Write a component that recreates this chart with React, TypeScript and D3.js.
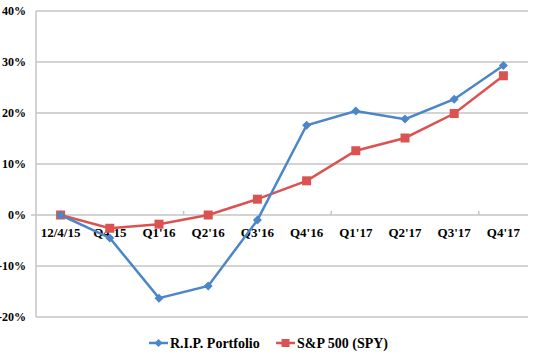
import React from "react";
import * as d3 from "d3";

const categories = ["12/4/15", "Q4'15", "Q1'16", "Q2'16", "Q3'16", "Q4'16", "Q1'17", "Q2'17", "Q3'17", "Q4'17"];
const ripValues = [0, -4.5, -16.3, -13.9, -1.0, 17.6, 20.4, 18.8, 22.7, 29.3];
const spyValues = [0, -2.6, -1.8, 0, 3.1, 6.7, 12.6, 15.1, 19.9, 27.3];
const yTicks = [-20, -10, 0, 10, 20, 30, 40];
const seriesNames = ["R.I.P. Portfolio", "S&P 500 (SPY)"];

const W = 533, H = 359;
const left = 36, right = 528, top = 11, bottom = 317;
const BLUE = "#4a86c8";
const RED = "#db5350";
const GRID = "#c4c4c4";
const FONT = "'Liberation Serif', 'Times New Roman', serif";

export default function App() {
  const x = d3.scaleBand<string>().domain(categories).range([left, right]);
  const y = d3.scaleLinear().domain([-20, 40]).range([bottom, top]);
  const cx = (c: string) => (x(c) as number) + x.bandwidth() / 2;
  const line = d3.line<number>().x((_, i) => cx(categories[i])).y((d) => y(d));
  const y0 = y(0);
  const tickIdx = [3, 6, 9];

  return (
    <svg width={W} height={H} style={{ position: "absolute", left: 0, top: 0, background: "#fff" }}>
      {yTicks.map((t) => (
        <g key={t}>
          {t !== 0 && <line x1={left} x2={right} y1={y(t)} y2={y(t)} stroke={GRID} strokeWidth={1.5} />}
          <text x={26} y={y(t) + 4} textAnchor="end" fontFamily={FONT} fontWeight="bold" fontSize={12} fill="#000">
            {t}%
          </text>
        </g>
      ))}
      <line x1={left} x2={left} y1={top} y2={bottom} stroke={GRID} strokeWidth={1.5} />
      <line x1={left - 5} x2={right} y1={y0} y2={y0} stroke={GRID} strokeWidth={1.5} />
      {tickIdx.map((i) => {
        const xx = (x(categories[0]) as number) + i * x.step();
        return <line key={i} x1={xx} x2={xx} y1={y0 - 4} y2={y0} stroke={GRID} strokeWidth={1.5} />;
      })}
      {categories.map((c) => (
        <text key={c} x={cx(c)} y={y0 + 22} textAnchor="middle" fontFamily={FONT} fontWeight="bold" fontSize={13} fill="#000">
          {c}
        </text>
      ))}
      <path d={line(spyValues) || ""} fill="none" stroke={RED} strokeWidth={2.5} />
      <path d={line(ripValues) || ""} fill="none" stroke={BLUE} strokeWidth={2.5} />
      {spyValues.map((v, i) => (
        <rect key={"s" + i} x={cx(categories[i]) - 4.5} y={y(v) - 4.5} width={9} height={9} fill={RED} />
      ))}
      {ripValues.map((v, i) => (
        <path
          key={"r" + i}
          transform={`translate(${cx(categories[i])},${y(v)})`}
          d="M0,-4.5L4.5,0L0,4.5L-4.5,0Z"
          fill={BLUE}
        />
      ))}
      <g>
        <line x1={149} x2={168} y1={343} y2={343} stroke={BLUE} strokeWidth={2.5} />
        <path transform="translate(158.5,343)" d="M0,-4L4,0L0,4L-4,0Z" fill={BLUE} />
        <text x={170} y={348} fontFamily={FONT} fontWeight="bold" fontSize={14} fill="#000">
          {seriesNames[0]}
        </text>
        <line x1={276} x2={295} y1={343} y2={343} stroke={RED} strokeWidth={2.5} />
        <rect x={281.5} y={339} width={8} height={8} fill={RED} />
        <text x={297} y={348} fontFamily={FONT} fontWeight="bold" fontSize={14} fill="#000">
          {seriesNames[1]}
        </text>
      </g>
    </svg>
  );
}
